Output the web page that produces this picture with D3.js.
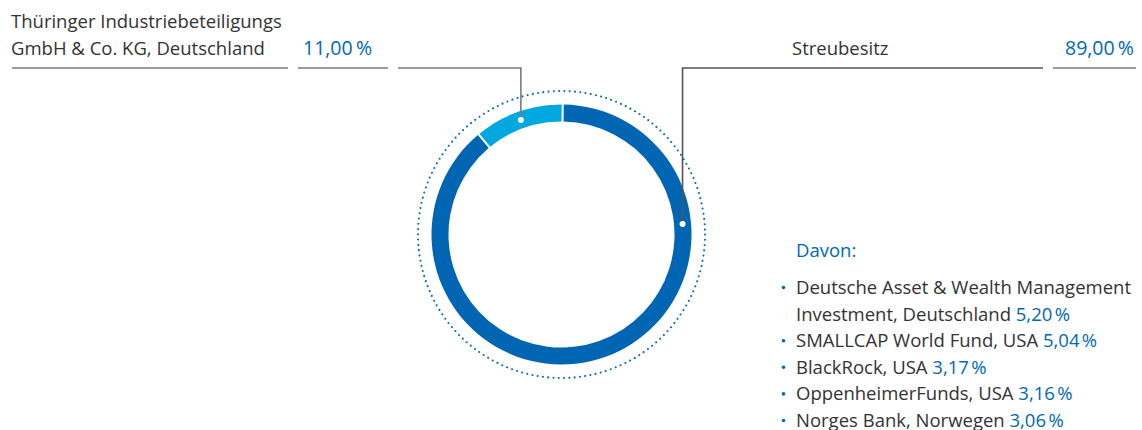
<!DOCTYPE html>
<html><head><meta charset="utf-8">
<script src="https://cdn.jsdelivr.net/npm/d3@7"></script>
<style>body{margin:0;background:#fff}svg{display:block}text{font-family:"Open Sans",sans-serif}</style>
</head><body>
<svg id="c" width="1142" height="430"></svg>
<script>
const categories = ["Thüringer Industriebeteiligungs GmbH & Co. KG, Deutschland", "Streubesitz"];
const shares = [11.00, 89.00];
const shareLabels = ["11,00\u2009%", "89,00\u2009%"];
const holders = ["Deutsche Asset & Wealth Management Investment, Deutschland", "SMALLCAP World Fund, USA", "BlackRock, USA", "OppenheimerFunds, USA", "Norges Bank, Norwegen"];
const holderShares = ["5,20\u202F%", "5,04\u202F%", "3,17\u202F%", "3,16\u202F%", "3,06\u202F%"];

const svg = d3.select("#c");
const cx = 561.5, cy = 234.5, rOuter = 130, rInner = 113, rDots = 143.5;
const blue = "#0068b4", light = "#00a8df", gray = "#7a7a7a", txt = "#333";
const colors = [light, "#0066b3"];

const total = d3.sum(shares);
const pie = d3.pie().sort(null).value(d => d)
  .startAngle(-2 * Math.PI * shares[0] / total)
  .endAngle(2 * Math.PI * (1 - shares[0] / total))
  .padAngle(0.012);
const arcs = pie(shares);
const arc = d3.arc().innerRadius(rInner).outerRadius(rOuter);
const g = svg.append("g").attr("transform", `translate(${cx},${cy})`);

const circ = 2 * Math.PI * rDots;
g.append("circle").attr("r", rDots).attr("fill", "none").attr("stroke", blue)
  .attr("stroke-width", 2.1).attr("stroke-linecap", "round")
  .attr("stroke-dasharray", `0 ${circ / 170}`);

g.selectAll("path.seg").data(arcs).enter().append("path")
  .attr("class", "seg").attr("d", arc).attr("fill", (d, i) => colors[i]);

const rMid = (rInner + rOuter) / 2;
const anchorAngle = [ (arcs[0].startAngle + arcs[0].endAngle) / 2, 85 * Math.PI / 180 ];
const anchors = anchorAngle.map(a => [cx + rMid * Math.sin(a), cy - rMid * Math.cos(a)]);
const lineY = 68;

svg.append("path").attr("d", `M${anchors[0][0]},${anchors[0][1]}V${lineY}H398`)
  .attr("fill", "none").attr("stroke", gray).attr("stroke-width", 1.6);
svg.append("path").attr("d", `M${anchors[1][0]},${anchors[1][1]}V${lineY}H1043`)
  .attr("fill", "none").attr("stroke", "#555").attr("stroke-width", 1.6);
[[12, 288], [298, 388], [1053, 1136]].forEach(s => {
  svg.append("line").attr("x1", s[0]).attr("x2", s[1]).attr("y1", lineY).attr("y2", lineY)
    .attr("stroke", gray).attr("stroke-width", 1.6);
});
anchors.forEach(p => svg.append("circle").attr("cx", p[0]).attr("cy", p[1]).attr("r", 3).attr("fill", "#fff"));

const fs = 18.5;
svg.append("text").attr("x", 11).attr("y", 28).attr("font-size", fs).attr("fill", txt).text("Thüringer Industriebeteiligungs");
svg.append("text").attr("x", 11).attr("y", 55).attr("font-size", fs).attr("fill", txt).text("GmbH & Co. KG, Deutschland");
svg.append("text").attr("x", 303).attr("y", 55).attr("font-size", 19.5).attr("fill", blue).text(shareLabels[0]);
svg.append("text").attr("x", 792).attr("y", 55).attr("font-size", fs).attr("fill", txt).text(categories[1]);
svg.append("text").attr("x", 1134).attr("y", 55).attr("text-anchor", "end").attr("font-size", 19.5).attr("fill", blue).text(shareLabels[1]);

svg.append("text").attr("x", 796).attr("y", 257).attr("font-size", fs).attr("fill", blue).text("Davon:");
const lines = [];
holders.forEach((h, i) => {
  if (i === 0) {
    lines.push({bullet: true, t: "Deutsche Asset & Wealth Management", v: null});
    lines.push({bullet: false, t: "Investment, Deutschland ", v: holderShares[i]});
  } else lines.push({bullet: true, t: h + " ", v: holderShares[i]});
});
const y0 = 294, dy = 26.6;
lines.forEach((l, i) => {
  const y = y0 + i * dy;
  if (l.bullet) svg.append("circle").attr("cx", 783.5).attr("cy", y - 6.5).attr("r", 1.8).attr("fill", blue);
  const t = svg.append("text").attr("x", 796).attr("y", y).attr("font-size", fs).attr("fill", txt);
  t.append("tspan").text(l.t);
  if (l.v) t.append("tspan").attr("fill", blue).text(l.v);
});
</script>
</body></html>
